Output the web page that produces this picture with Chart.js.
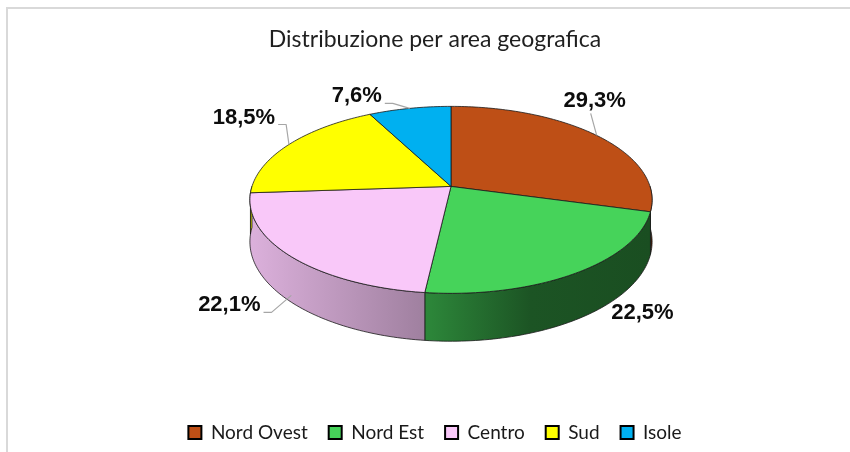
<!DOCTYPE html>
<html>
<head>
<meta charset="utf-8">
<title>Distribuzione per area geografica</title>
<script src="https://cdn.jsdelivr.net/npm/chart.js@4.4.1/dist/chart.umd.min.js"></script>
<style>
    html, body { margin: 0; padding: 0; background: #fff; }
    #wrap { width: 850px; height: 452px; position: relative; }
</style>
</head>
<body>
<div id="wrap"><canvas id="pieChart"></canvas></div>
<script>
// Distribuzione per area geografica - torta 3D

const categories = ['Nord Ovest', 'Nord Est', 'Centro', 'Sud', 'Isole'];
const shares = [29.3, 22.5, 22.1, 18.5, 7.6];
const sliceColors = ['#BE4F16', '#46D35A', '#F9C8F9', '#FFFF00', '#00B0F0'];

// posizione delle etichette rispetto al bordo della fetta
const labelNudge = [
    { dx: -2, dy: -34, leader: 'v' },
    { dx: 65, dy: 1, leader: null },
    { dx: -62, dy: 10, leader: 'h' },
    { dx: -45, dy: -27, leader: 'h' },
    { dx: -53, dy: -12, leader: 'h' }
];

// geometria della torta 3D
const tilt = 0.46;      // schiacciamento verticale
const persp = 0.144;    // prospettiva
const depth = 0.206;    // spessore / raggio
const pieShiftX = 16;

function shade(hex, f) {
    const n = parseInt(hex.slice(1), 16);
    const r = Math.round(((n >> 16) & 255) * f);
    const g = Math.round(((n >> 8) & 255) * f);
    const b = Math.round((n & 255) * f);
    return `rgb(${r}, ${g}, ${b})`;
}

const pie3d = {
    id: 'pie3d',
    beforeDraw(chart) {
        const ctx = chart.ctx;
        ctx.save();
        ctx.fillStyle = '#fff';
        ctx.fillRect(0, 0, chart.width, chart.height);
        ctx.strokeStyle = '#d9d9d9';
        ctx.lineWidth = 2;
        ctx.beginPath();
        ctx.moveTo(7, chart.height + 5);
        ctx.lineTo(7, 8);
        ctx.lineTo(chart.width + 5, 8);
        ctx.stroke();
        ctx.restore();
    },
    beforeDatasetsDraw(chart) {
        const ctx = chart.ctx;
        const arcs = chart.getDatasetMeta(0).data;
        const area = chart.chartArea;
        const R = arcs[0].outerRadius;
        const H = R * depth;
        const cx = arcs[0].x + pieShiftX;
        const topExt = R * tilt / (1 + persp);
        const botExt = (R * tilt + H) / (1 - persp);
        const cy = (area.top + area.bottom) / 2 - (botExt - topExt) / 2;

        const pt = (a, h) => {
            const X = Math.cos(a), Z = Math.sin(a);
            const s = 1 / (1 - persp * Z);
            return [cx + R * X * s, cy + (R * tilt * Z + h) * s];
        };
        const rim = (a0, a1, h) => {
            const n = Math.max(2, Math.ceil(Math.abs(a1 - a0) / 0.02));
            const pts = [];
            for (let i = 0; i <= n; i++) pts.push(pt(a0 + (a1 - a0) * i / n, h));
            return pts;
        };

        ctx.save();
        ctx.lineJoin = 'round';

        // pareti laterali (solo la parte anteriore)
        arcs.forEach((arc, i) => {
            const a0 = Math.max(arc.startAngle, 0);
            const a1 = Math.min(arc.endAngle, Math.PI);
            if (a1 <= a0) return;
            const pts = rim(a0, a1, 0).concat(rim(a1, a0, H));
            const grad = ctx.createLinearGradient(cx - R, 0, cx + R, 0);
            grad.addColorStop(0, shade(sliceColors[i], 0.88));
            grad.addColorStop(0.45, shade(sliceColors[i], 0.63));
            grad.addColorStop(0.7, shade(sliceColors[i], 0.4));
            grad.addColorStop(1, shade(sliceColors[i], 0.37));
            ctx.beginPath();
            pts.forEach((p, k) => k ? ctx.lineTo(p[0], p[1]) : ctx.moveTo(p[0], p[1]));
            ctx.closePath();
            ctx.fillStyle = grad;
            ctx.fill();
            ctx.strokeStyle = '#1a1a1a';
            ctx.lineWidth = 0.8;
            ctx.stroke();
        });

        // facce superiori
        arcs.forEach((arc, i) => {
            const pts = rim(arc.startAngle, arc.endAngle, 0);
            ctx.beginPath();
            ctx.moveTo(cx, cy);
            pts.forEach(p => ctx.lineTo(p[0], p[1]));
            ctx.closePath();
            ctx.fillStyle = sliceColors[i];
            ctx.fill();
            ctx.strokeStyle = '#1a1a1a';
            ctx.lineWidth = 0.8;
            ctx.stroke();
        });

        // etichette percentuali
        ctx.font = 'bold 22px "Liberation Sans", Arial, sans-serif';
        ctx.textAlign = 'center';
        ctx.textBaseline = 'middle';
        arcs.forEach((arc, i) => {
            const mid = (arc.startAngle + arc.endAngle) / 2;
            const h = Math.sin(mid) > 0 ? H * 0.85 : 0;
            const [ax, ay] = pt(mid, h);
            const nudge = labelNudge[i];
            const lx = ax + nudge.dx, ly = ay + nudge.dy;
            const text = shares[i].toFixed(1).replace('.', ',') + '%';
            const w = ctx.measureText(text).width;

            if (nudge.leader) {
                ctx.beginPath();
                ctx.strokeStyle = '#a6a6a6';
                ctx.lineWidth = 1.2;
                if (nudge.leader === 'h') {
                    const side = ax > lx ? 1 : -1;
                    const sx = lx + side * (w / 2 + 3), sy = ly + 7;
                    ctx.moveTo(sx, sy);
                    ctx.lineTo(sx + side * 8, sy);
                    ctx.lineTo(ax, ay);
                } else {
                    ctx.moveTo(lx - 4, ly + 12);
                    ctx.lineTo(ax, ay);
                }
                ctx.stroke();
            }
            ctx.fillStyle = '#0d0d0d';
            ctx.fillText(text, lx, ly);
        });

        ctx.restore();
        return false;
    }
};

function createPieChart() {
    const ctx = document.getElementById('pieChart').getContext('2d');

    return new Chart(ctx, {
        type: 'pie',
        data: {
            labels: categories,
            datasets: [{
                data: shares,
                backgroundColor: sliceColors,
                borderColor: '#000',
                borderWidth: 2
            }]
        },
        options: {
            responsive: true,
            maintainAspectRatio: false,
            animation: false,
            events: [],
            radius: 199,
            layout: { padding: { left: 20, right: 0, top: 0, bottom: 0 } },
            plugins: {
                title: {
                    display: true,
                    text: 'Distribuzione per area geografica',
                    color: '#1f1f1f',
                    font: { family: 'Lato', size: 23, weight: 'normal' },
                    padding: { top: 26, bottom: -8 }
                },
                legend: {
                    position: 'bottom',
                    labels: {
                        color: '#1a1a1a',
                        font: { family: 'Lato', size: 19 },
                        boxWidth: 13,
                        boxHeight: 13,
                        padding: 21
                    }
                },
                tooltip: { enabled: false }
            }
        },
        plugins: [pie3d]
    });
}

createPieChart();
</script>
</body>
</html>
